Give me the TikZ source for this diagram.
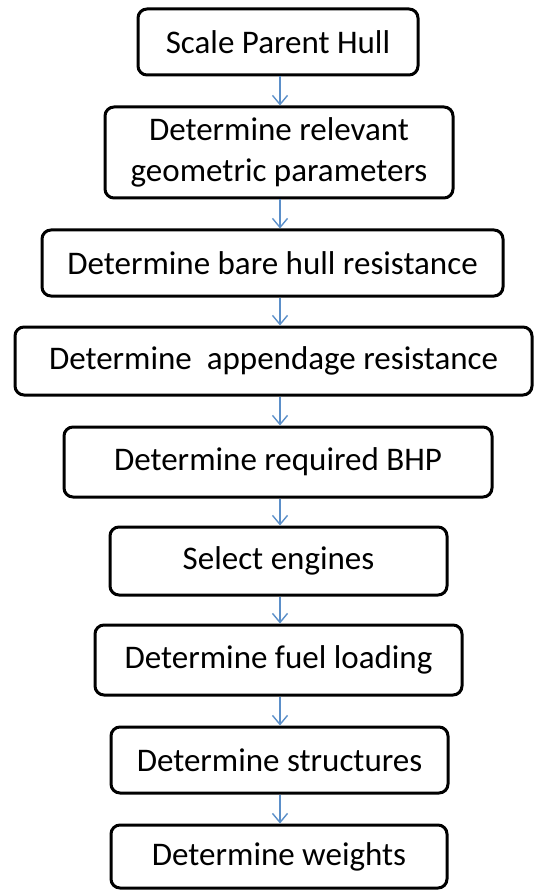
\documentclass[tikz,border=0pt]{standalone}
\usepackage{fontspec}
\setmainfont{Carlito}
\usepackage{tikz}
\usetikzlibrary{arrows.meta}

\definecolor{arrowblue}{RGB}{91,143,201}

\tikzset{
    stepbox/.style={draw, line width=3pt, rounded corners=9pt, align=center, inner sep=0pt,
        font=\fontsize{33}{41}\selectfont},
    flow/.style={->, draw=arrowblue, line width=1.4pt}
}

\begin{document}
\begin{tikzpicture}[x=1pt, y=-1pt, >={Straight Barb[length=9pt, width=15pt]}]
        \useasboundingbox (0,0) rectangle (534,890);

        % Steps
        \node at (278,42) [stepbox, minimum width=280pt, minimum height=66pt] (scale) {Scale Parent Hull};
        \node at (279,152.5) [stepbox, minimum width=348pt, minimum height=91pt] (geom) {Determine relevant\\geometric parameters};
        \node at (272.5,263) [stepbox, minimum width=461pt, minimum height=66pt] (bare) {Determine bare hull resistance};
        \node at (273.5,361) [stepbox, minimum width=517pt, minimum height=68pt] (append) {Determine\ \ appendage resistance};
        \node at (278,462) [stepbox, minimum width=428pt, minimum height=70pt] (bhp) {Determine required BHP};
        \node at (278.5,561) [stepbox, minimum width=337pt, minimum height=68pt] (engines) {Select engines};
        \node at (278.5,660) [stepbox, minimum width=367pt, minimum height=70pt] (fuel) {Determine fuel loading};
        \node at (279.5,760) [stepbox, minimum width=337pt, minimum height=66pt] (struct) {Determine structures};
        \node at (279,856.5) [stepbox, minimum width=336pt, minimum height=63pt] (weights) {Determine weights};

        % Arrows
        \draw[flow] (scale.south -| 280,0) -- (geom.north -| 280,0);
        \draw[flow] (geom.south -| 280,0) -- (bare.north -| 280,0);
        \draw[flow] (bare.south -| 280,0) -- (append.north -| 280,0);
        \draw[flow] (append.south -| 280,0) -- (bhp.north -| 280,0);
        \draw[flow] (bhp.south -| 280,0) -- (engines.north -| 280,0);
        \draw[flow] (engines.south -| 280,0) -- (fuel.north -| 280,0);
        \draw[flow] (fuel.south -| 280,0) -- (struct.north -| 280,0);
        \draw[flow] (struct.south -| 280,0) -- (weights.north -| 280,0);

    \end{tikzpicture}
\end{document}
